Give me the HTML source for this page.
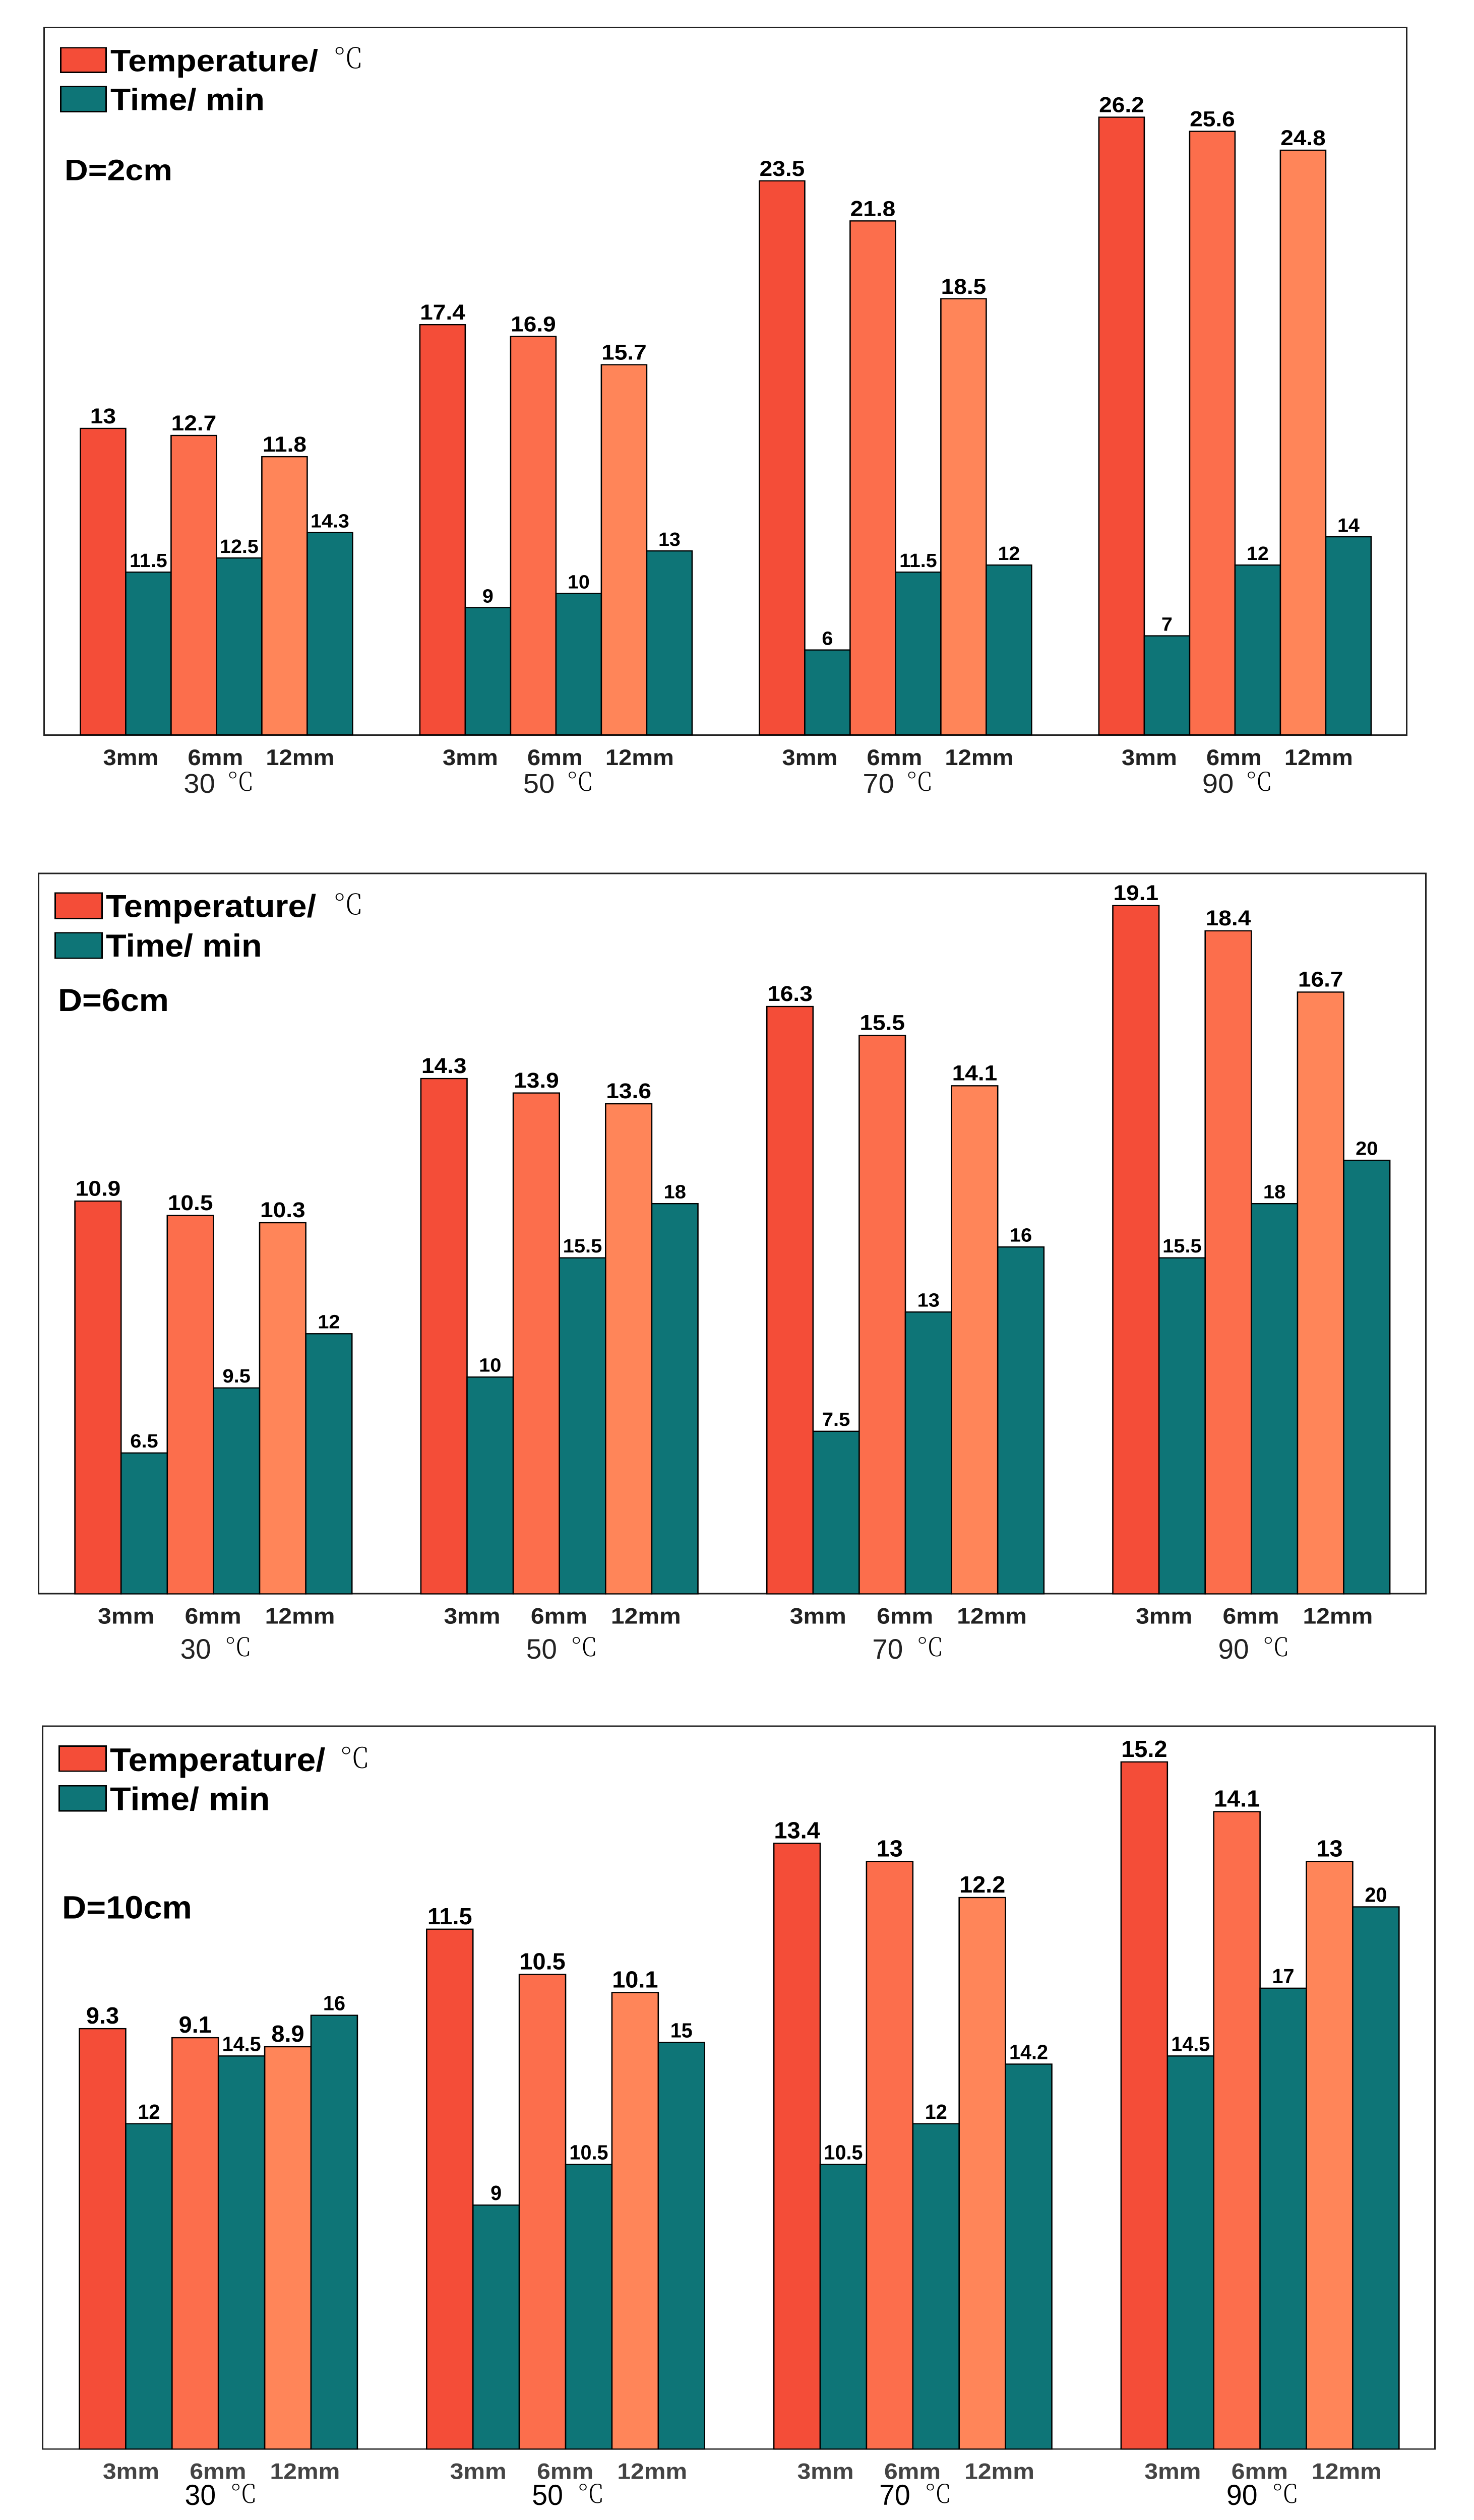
<!DOCTYPE html>
<html lang="en">
<head>
<meta charset="utf-8">
<title>Temperature and time by distance</title>
<style>
html,body{margin:0;padding:0;background:#fff;width:100%;height:100%;overflow:hidden;}
svg{display:block;width:100vw;height:100vh;}
text{font-family:"Liberation Sans","Noto Sans CJK SC",sans-serif;}
.lg{font-weight:700;fill:#000;}
.deg{font-family:"Noto Serif CJK SC","Liberation Serif",serif;font-weight:200;fill:#000;}
.frame{fill:none;stroke:#222;stroke-width:3;shape-rendering:crispEdges;}
.sw{stroke:#000;stroke-width:3;shape-rendering:crispEdges;}
</style>
</head>
<body>
<svg id="chart" xmlns="http://www.w3.org/2000/svg" viewBox="0 0 2924 5521" preserveAspectRatio="none">
  <rect x="0" y="0" width="2924" height="5521" fill="#fff"/>

  <g id="panel-0">
    <rect class="frame" x="87.5" y="60.5" width="2703" height="1550"/>
    <rect class="sw" x="120.5" y="104.5" width="90" height="54" fill="#F44D38"/>
    <rect class="sw" x="120.5" y="189.5" width="90" height="55" fill="#0E7577"/>
    <text class="lg" font-size="68" transform="translate(219,156) scale(.968,1)">Temperature/</text>
    <text class="deg" font-size="60" transform="translate(661,149)">℃</text>
    <text class="lg" font-size="68" transform="translate(219,241) scale(.968,1)">Time/ min</text>
    <text class="lg" font-size="65" transform="translate(128,395) scale(.995,1)">D=2cm</text>
  </g>

  <g id="panel-1">
    <rect class="frame" x="76.5" y="1913.5" width="2752" height="1578"/>
    <rect class="sw" x="109.5" y="1956.5" width="93" height="56" fill="#F44D38"/>
    <rect class="sw" x="109.5" y="2043.5" width="93" height="56" fill="#0E7577"/>
    <text class="lg" font-size="70" transform="translate(210,2009) scale(.952,1)">Temperature/</text>
    <text class="deg" font-size="60" transform="translate(661,2003)">℃</text>
    <text class="lg" font-size="70" transform="translate(210,2096) scale(.952,1)">Time/ min</text>
    <text class="lg" font-size="70" transform="translate(115,2215) scale(.95,1)">D=6cm</text>
  </g>

  <g id="panel-2">
    <rect class="frame" x="84.5" y="3781.5" width="2762" height="1584"/>
    <rect class="sw" x="117.5" y="3825.5" width="93" height="55" fill="#F44D38"/>
    <rect class="sw" x="117.5" y="3912.5" width="93" height="55" fill="#0E7577"/>
    <text class="lg" font-size="72" transform="translate(218,3880) scale(.948,1)">Temperature/</text>
    <text class="deg" font-size="60" transform="translate(674,3873)">℃</text>
    <text class="lg" font-size="72" transform="translate(218,3966) scale(.948,1)">Time/ min</text>
    <text class="lg" font-size="71" transform="translate(123,4203) scale(.94,1)">D=10cm</text>
  </g>
</svg>
<script>
// Chart data
const groupLabels = ['30', '50', '70', '90'];
const sizeLabels = ['3mm', '6mm', '12mm'];
const unitLabel = '℃';

const temperatureD2 = [13, 12.7, 11.8, 17.4, 16.9, 15.7, 23.5, 21.8, 18.5, 26.2, 25.6, 24.8];
const timeD2 = [11.5, 12.5, 14.3, 9, 10, 13, 6, 11.5, 12, 7, 12, 14];

const temperatureD6 = [10.9, 10.5, 10.3, 14.3, 13.9, 13.6, 16.3, 15.5, 14.1, 19.1, 18.4, 16.7];
const timeD6 = [6.5, 9.5, 12, 10, 15.5, 18, 7.5, 13, 16, 15.5, 18, 20];

const temperatureD10 = [9.3, 9.1, 8.9, 11.5, 10.5, 10.1, 13.4, 13, 12.2, 15.2, 14.1, 13];
const timeD10 = [12, 14.5, 16, 9, 10.5, 15, 10.5, 12, 14.2, 14.5, 17, 20];

const SVG_NS = 'http://www.w3.org/2000/svg';
const temperatureShades = ['#F44D38', '#FC6E4C', '#FF8559'];
const timeColor = '#0E7577';

function makeText(parent, str, x, y, size, weight, fill, anchor, sx, cls) {
  const t = document.createElementNS(SVG_NS, 'text');
  t.setAttribute('transform', 'translate(' + x + ',' + y + ') scale(' + sx + ',1)');
  t.setAttribute('font-size', size);
  t.setAttribute('font-weight', weight);
  t.setAttribute('fill', fill);
  t.setAttribute('text-anchor', anchor);
  if (cls) t.setAttribute('class', cls);
  t.textContent = str;
  parent.appendChild(t);
  return t;
}

function makeBar(parent, x, y, w, h, fill) {
  const r = document.createElementNS(SVG_NS, 'rect');
  r.setAttribute('x', x);
  r.setAttribute('y', y);
  r.setAttribute('width', w);
  r.setAttribute('height', h);
  r.setAttribute('fill', fill);
  r.setAttribute('stroke', '#000');
  r.setAttribute('stroke-width', '2.6');
  parent.appendChild(r);
  return r;
}

function drawPanel(panelId, temperature, time, lay) {
  const parent = document.getElementById(panelId);
  const xBar = (g, i) => lay.start + g * lay.step + i * lay.barW;
  const yTemperature = v => lay.base - v * lay.tempScale;
  const yTime = v => lay.base - v * lay.timeScale;

  groupLabels.forEach((group, g) => {
    sizeLabels.forEach((size, s) => {
      const idx = g * sizeLabels.length + s;
      const tv = temperature[idx];
      const mv = time[idx];

      const tx = xBar(g, s * 2);
      const ty = yTemperature(tv);
      const tb = makeBar(parent, tx, ty, lay.barW, lay.base - ty, temperatureShades[s]);
      
      

      const mx = xBar(g, s * 2 + 1);
      const my = yTime(mv);
      const mb = makeBar(parent, mx, my, lay.barW, lay.base - my, timeColor);
      
      

      const tl = makeText(parent, String(tv), tx + lay.barW / 2, ty - lay.valueGap, lay.tempLabelSize, 700, '#000', 'middle', lay.tempLabelSx);
      
      

      const ml = makeText(parent, String(mv), mx + lay.barW / 2, my - lay.valueGap, lay.timeLabelSize, 700, '#000', 'middle', lay.timeLabelSx);
      
      

      const sl = makeText(parent, size, lay.start + g * lay.step + lay.tickFirst + s * lay.tickGap, lay.tickY, lay.tickSize, 700, lay.tickFill, 'middle', lay.tickSx);
      
      
    });

    const groupX = lay.start + g * lay.step + lay.groupOffset;
    const gl = makeText(parent, group, groupX, lay.groupY, lay.groupSize, 400, lay.groupFill, 'start', lay.groupSx);
    
    

    const ul = makeText(parent, unitLabel, groupX + lay.unitOffset, lay.unitY, lay.unitSize, 200, lay.groupFill, 'start', 1, 'deg');
    
    
  });
}

drawPanel('panel-0', temperatureD2, timeD2, {
  start: 159.4, step: 673.5, barW: 90, base: 1610,
  tempScale: 51.65, timeScale: 31, valueGap: 11,
  tempLabelSize: 47.5, tempLabelSx: 0.97, timeLabelSize: 42, timeLabelSx: 0.94,
  tickFirst: 100, tickGap: 168, tickY: 1676, tickSize: 49, tickSx: 0.96, tickFill: '#222',
  groupOffset: 205, groupY: 1737, groupSize: 59, groupSx: 0.95, groupFill: '#222',
  unitOffset: 86, unitY: 1732, unitSize: 54
});

drawPanel('panel-1', temperatureD6, timeD6, {
  start: 148.6, step: 686.3, barW: 91.6, base: 3492,
  tempScale: 78.95, timeScale: 47.5, valueGap: 12,
  tempLabelSize: 47.5, tempLabelSx: 0.97, timeLabelSize: 42, timeLabelSx: 0.95,
  tickFirst: 101.6, tickGap: 172.4, tickY: 3557, tickSize: 49, tickSx: 0.98, tickFill: '#222',
  groupOffset: 209, groupY: 3634, groupSize: 61, groupSx: 0.9, groupFill: '#222',
  unitOffset: 88, unitY: 3628, unitSize: 54
});

drawPanel('panel-2', temperatureD10, timeD10, {
  start: 157.5, step: 688.8, barW: 91.9, base: 5365.7,
  tempScale: 99.05, timeScale: 59.4, valueGap: 11,
  tempLabelSize: 51, tempLabelSx: 0.92, timeLabelSize: 45, timeLabelSx: 0.88,
  tickFirst: 102.4, tickGap: 172.5, tickY: 5431, tickSize: 49, tickSx: 0.98, tickFill: '#444',
  groupOffset: 209, groupY: 5488, groupSize: 63, groupSx: 0.88, groupFill: '#000',
  unitOffset: 90, unitY: 5483, unitSize: 54
});
</script>
</body>
</html>
